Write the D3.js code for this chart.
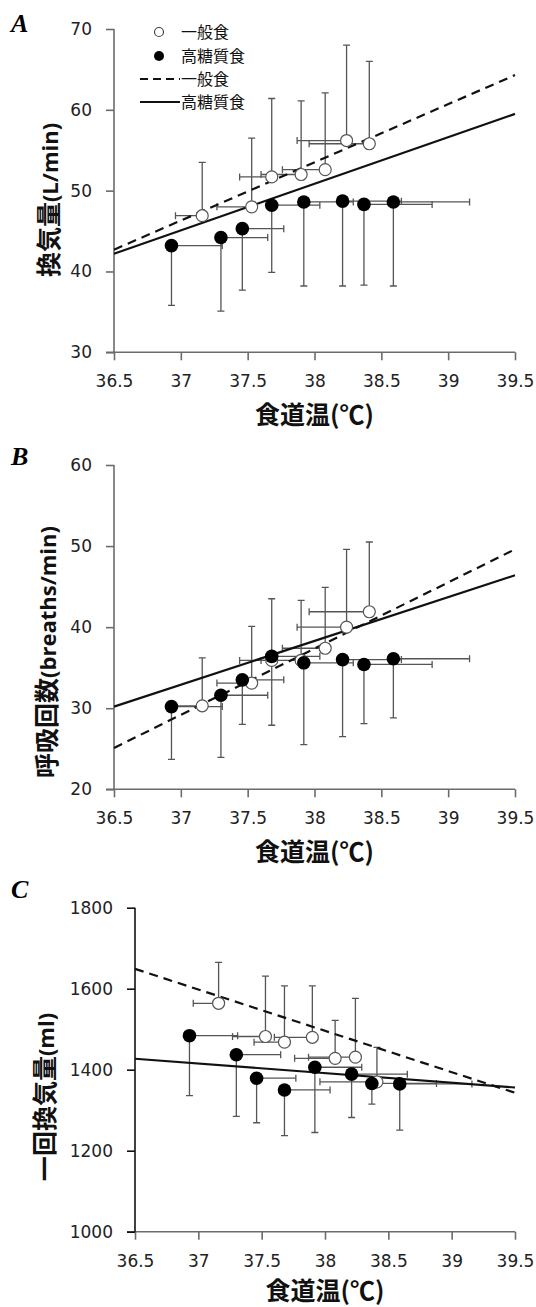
<!DOCTYPE html>
<html>
<head>
<meta charset="utf-8">
<script src="https://cdn.jsdelivr.net/npm/d3@7"></script>
<style>
  body { margin: 0; background: #fff; }
  svg { display: block; }
  .tick text { font-family: "DejaVu Sans", Verdana, sans-serif; font-size: 17px; fill: #222; }
  .axtitle { font-family: "Noto Sans CJK JP", sans-serif; font-weight: bold; font-size: 25px; fill: #111; }
  .axtitle .lat { font-family: "Open Sans", sans-serif; font-size: 22px; font-weight: bold; }
  .legend text { font-family: "Noto Sans CJK JP", sans-serif; font-size: 16px; fill: #111; }
  .letter { font-family: "Liberation Serif", serif; font-weight: bold; font-style: italic; font-size: 26px; }
</style>
</head>
<body>
<svg width="536" height="1307"></svg>
<script>
// temperature (x) shared by all three panels
var tempNormal   = [37.16, 37.53, 37.68, 37.90, 38.08, 38.24, 38.41];
var tempNormalSD = [0.20, 0.26, 0.24, 0.30, 0.32, 0.37, 0.45];
var tempHigh     = [36.93, 37.30, 37.46, 37.68, 37.92, 38.21, 38.37, 38.59];
var tempHighSD   = [0.38, 0.35, 0.31, 0.36, 0.37, 0.44, 0.51, 0.57];

// A: 換気量
var veNormal   = [46.9, 48.0, 51.7, 52.0, 52.6, 56.2, 55.8];
var veNormalSD = [6.6, 8.5, 9.7, 9.1, 9.5, 11.8, 10.2];
var veHigh     = [43.2, 44.2, 45.3, 48.2, 48.6, 48.7, 48.3, 48.6];
var veHighSD   = [7.4, 9.1, 7.6, 8.3, 10.4, 10.5, 10.0, 10.4];

// B: 呼吸回数
var rrNormal   = [30.3, 33.1, 35.9, 35.9, 37.4, 40.0, 41.9];
var rrNormalSD = [5.9, 7.0, 7.6, 7.4, 7.5, 9.6, 8.6];
var rrHigh     = [30.2, 31.6, 33.5, 36.4, 35.6, 36.0, 35.4, 36.1];
var rrHighSD   = [6.5, 7.65, 5.5, 8.5, 10.1, 9.5, 7.3, 7.3];

// C: 一回換気量
var tvNormal   = [1564, 1482, 1468, 1480, 1428, 1431, 1370];
var tvNormalSD = [101, 149, 139, 127, 94, 145, 85];
var tvHigh     = [1484, 1437, 1379, 1350, 1406, 1389, 1366, 1365];
var tvHighSD   = [148, 152, 110, 113, 161, 107, 51, 114];

// regression lines, value at each end of fitRange
var fitRange    = [36.5, 39.5];
var fitVeNormal = [42.7, 64.3];
var fitVeHigh   = [42.2, 59.5];
var fitRrNormal = [25.1, 49.6];
var fitRrHigh   = [30.2, 46.4];
var fitTvNormal = [1649, 1343];
var fitTvHigh   = [1427, 1356];

var xTicks = [36.5, 37, 37.5, 38, 38.5, 39, 39.5];
var xTitle = ["食道温(℃)", ""];

var svg = d3.select("svg");
var fmtX = function(d){ return d % 1 ? d.toFixed(1) : d.toFixed(0); };

function title(g, parts, transform) {
	var t = g.append("text").attr("class", "axtitle")
		.attr("transform", transform)
		.attr("text-anchor", "middle");
	t.append("tspan").text(parts[0]);
	if (parts[1]) t.append("tspan").attr("class", "lat").text(parts[1]);
	return t;
}

function panel(opt) {
	var x = d3.scaleLinear().domain([36.5, 39.5]).range([opt.left, 515]);
	var y = d3.scaleLinear().domain(opt.yDomain).range([opt.bottom, opt.top]);
	var g = svg.append("g");

	// axes
	var xa = g.append("g")
		.attr("transform", "translate(0," + opt.bottom + ")")
		.call(d3.axisBottom(x).tickValues(xTicks).tickFormat(fmtX).tickSize(8).tickPadding(15).tickSizeOuter(0));
	xa.selectAll("path,line").attr("stroke", "#6b6b6b").attr("stroke-width", 1.6);
	xa.select(".domain").attr("d", "M" + (opt.left - 8) + ",0H515");

	var ya = g.append("g")
		.attr("transform", "translate(" + opt.left + ",0)")
		.call(d3.axisLeft(y).tickValues(opt.yTicks).tickFormat(d3.format("d")).tickSize(8).tickPadding(14).tickSizeOuter(0));
	ya.selectAll("path,line").attr("stroke", opt.yAxisColor).attr("stroke-width", 1.6);
	ya.select(".domain").attr("d", "M0," + opt.top + "V" + opt.bottom);
	g.selectAll(".tick text").attr("fill", "#222");

	// titles
	title(g, xTitle, "translate(" + ((opt.left + 515) / 2) + "," + (opt.bottom + opt.xTitleGap) + ")")
		.attr("dy", "0.36em").style("font-size", "25px");
	title(g, opt.yTitle, "translate(" + opt.yTitleX + "," + opt.yTitleY + ") rotate(-90)");
	g.append("text").attr("class", "letter")
		.attr("x", 11).attr("y", opt.letterY).text(opt.letter);

	var nData = tempNormal.map(function(t, i){ return {t: t, ts: tempNormalSD[i], v: opt.normal[i], vs: opt.normalSD[i]}; });
	var hData = tempHigh.map(function(t, i){ return {t: t, ts: tempHighSD[i], v: opt.high[i], vs: opt.highSD[i]}; });
	var cap = 3.5;

	function errorBars(data, dir) {
		var eb = g.append("g").attr("stroke", "#555").attr("stroke-width", 1.3).attr("fill", "none");
		data.forEach(function(d){
			var px = x(d.t), py = y(d.v);
			var vy = y(d.v + dir * d.vs), hx = x(d.t - dir * d.ts);
			eb.append("path").attr("d",
				"M" + px + "," + py + "V" + vy +
				"M" + (px - cap) + "," + vy + "H" + (px + cap) +
				"M" + px + "," + py + "H" + hx +
				"M" + hx + "," + (py - cap) + "V" + (py + cap));
		});
	}
	errorBars(hData, -1);
	errorBars(nData, 1);

	// regression lines
	var line = d3.line().x(function(d){ return x(d[0]); }).y(function(d){ return y(d[1]); });
	g.append("path")
		.attr("d", line(fitRange.map(function(t, i){ return [t, opt.fitNormal[i]]; })))
		.attr("stroke", "#111").attr("stroke-width", 2.2).attr("stroke-dasharray", "9,6").attr("fill", "none");
	g.append("path")
		.attr("d", line(fitRange.map(function(t, i){ return [t, opt.fitHigh[i]]; })))
		.attr("stroke", "#111").attr("stroke-width", 2.2).attr("fill", "none");

	// markers
	g.selectAll(".open").data(nData).enter().append("circle")
		.attr("cx", function(d){ return x(d.t); })
		.attr("cy", function(d){ return y(d.v); })
		.attr("r", 6).attr("fill", "#fff").attr("stroke", "#555").attr("stroke-width", 1.2);
	g.selectAll(".fill").data(hData).enter().append("circle")
		.attr("cx", function(d){ return x(d.t); })
		.attr("cy", function(d){ return y(d.v); })
		.attr("r", 6.8).attr("fill", "#000");
}

panel({
	left: 114, top: 29, bottom: 352.3, yDomain: [30, 70], yTicks: [30, 40, 50, 60, 70],
	yAxisColor: "#6b6b6b", yTitle: ["換気量", "(L/min)"], yTitleX: 58, yTitleY: 200,
	letter: "A", letterY: 32, xTitleGap: 63,
	normal: veNormal, normalSD: veNormalSD, high: veHigh, highSD: veHighSD,
	fitNormal: fitVeNormal, fitHigh: fitVeHigh
});
panel({
	left: 114, top: 465, bottom: 789.3, yDomain: [20, 60], yTicks: [20, 30, 40, 50, 60],
	yAxisColor: "#6b6b6b", yTitle: ["呼吸回数", "(breaths/min)"], yTitleX: 56, yTitleY: 652,
	letter: "B", letterY: 465, xTitleGap: 63,
	normal: rrNormal, normalSD: rrNormalSD, high: rrHigh, highSD: rrHighSD,
	fitNormal: fitRrNormal, fitHigh: fitRrHigh
});
panel({
	left: 135, top: 907.7, bottom: 1231.7, yDomain: [1000, 1800], yTicks: [1000, 1200, 1400, 1600, 1800],
	yAxisColor: "#111", yTitle: ["一回換気量", "(ml)"], yTitleX: 54, yTitleY: 1097,
	letter: "C", letterY: 898, xTitleGap: 59,
	normal: tvNormal, normalSD: tvNormalSD, high: tvHigh, highSD: tvHighSD,
	fitNormal: fitTvNormal, fitHigh: fitTvHigh
});

// legend (panel A)
var lg = svg.append("g").attr("class", "legend");
var legendLabels = ["一般食", "高糖質食", "一般食", "高糖質食"];
var legendY = [32, 56, 79, 102];
lg.append("circle").attr("cx", 159).attr("cy", legendY[0]).attr("r", 4.5).attr("fill", "#fff").attr("stroke", "#444").attr("stroke-width", 1.2);
lg.append("circle").attr("cx", 159).attr("cy", legendY[1]).attr("r", 5).attr("fill", "#000");
lg.append("line").attr("x1", 140).attr("x2", 180).attr("y1", legendY[2]).attr("y2", legendY[2])
	.attr("stroke", "#111").attr("stroke-width", 2).attr("stroke-dasharray", "8,5");
lg.append("line").attr("x1", 140).attr("x2", 180).attr("y1", legendY[3]).attr("y2", legendY[3])
	.attr("stroke", "#111").attr("stroke-width", 2);
lg.selectAll("text").data(legendLabels).enter().append("text")
	.attr("x", 181).attr("y", function(d, i){ return legendY[i]; })
	.attr("dy", "0.36em").text(function(d){ return d; });
</script>
</body>
</html>
